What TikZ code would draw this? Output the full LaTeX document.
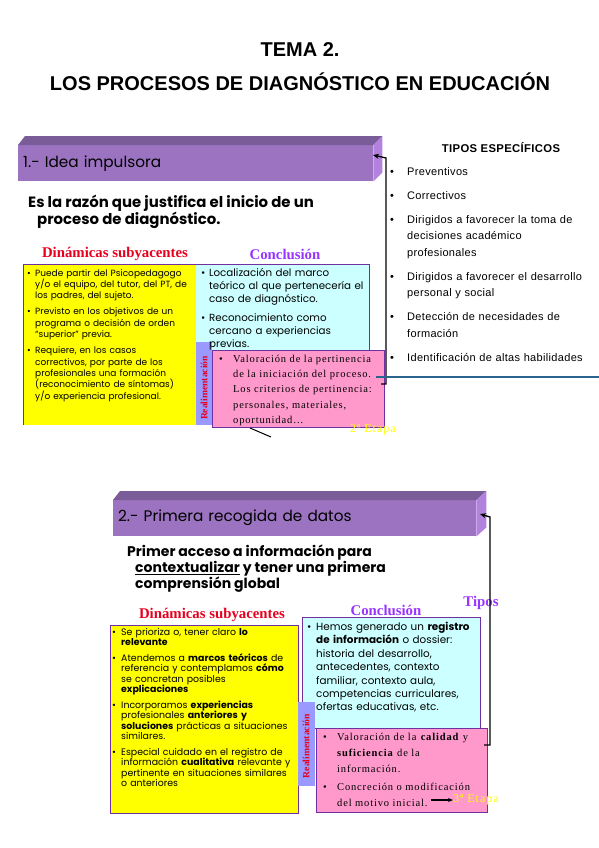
\documentclass[tikz,border=0pt]{standalone}
\usepackage{fontspec}
\setmainfont{Liberation Serif}
\newfontfamily\arialf{Liberation Sans}
\newfontfamily\arialls{Liberation Sans}[LetterSpace=3]
\newfontfamily\bodyf{Poppins}
\newfontfamily\timesls{Liberation Serif}[LetterSpace=8]
\usetikzlibrary{arrows.meta}
\definecolor{barfront}{RGB}{155,115,192}
\definecolor{bartop}{RGB}{122,92,152}
\definecolor{barside}{RGB}{178,130,222}
\definecolor{boxline}{RGB}{112,48,160}
\definecolor{yellowbox}{RGB}{255,255,0}
\definecolor{cyanbox}{RGB}{204,255,255}
\definecolor{pinkbox}{RGB}{255,153,204}
\definecolor{lavbox}{RGB}{153,153,255}
\definecolor{headred}{RGB}{230,0,30}
\definecolor{headviolet}{RGB}{153,51,255}
\definecolor{etapayellow}{RGB}{255,255,0}
\definecolor{tealline}{RGB}{40,100,140}
\newcommand{\bul}[1]{\hangindent=#1\hangafter=1\noindent\makebox[#1][l]{\textbullet}\ignorespaces}
\newcommand{\itemgap}[1]{\par\vspace{#1}}

\begin{document}
\begin{tikzpicture}[x=1pt,y=-1pt,
    bar/.style={fill=barfront, text=black, font=\bodyf\fontsize{15.3}{17}\selectfont,
      inner xsep=5pt, inner ysep=0pt, minimum height=36pt, anchor=north west, align=left},
    panel/.style={line width=0.6pt, draw=boxline},
    txt/.style={anchor=north west, inner sep=0pt, align=left},
    head/.style={inner sep=0pt, font=\bfseries\fontsize{14.8}{16}\selectfont},
    realim/.style={inner sep=0pt, rotate=90, text=headred, font=\bfseries\fontsize{9.6}{10}\selectfont},
    etapa/.style={inner sep=0pt, anchor=west, text=etapayellow, font=\timesls\fontsize{12}{14}\selectfont},
    bracketline/.style={line width=1.3pt, -{Stealth[length=6pt,width=5pt]}}]

  \fill[white] (0,0) rectangle (599,848);
  \useasboundingbox (0,0) rectangle (599,848);

  %% title
  \node[font=\arialf\bfseries\fontsize{20}{22}\selectfont] (tema) at (300,50) {TEMA 2.};
  \node[font=\arialf\bfseries\fontsize{20}{22}\selectfont] (titulo) at (300,82) {LOS PROCESOS DE DIAGNÓSTICO EN EDUCACIÓN};

  %% ---- stage 1 ----
  \node[bar, text width=345pt] (bar1) at (18,145) {1.- Idea impulsora};
  \fill[bartop] (bar1.north west) -- ++(7pt,9pt) -- ([shift={(9pt,9pt)}]bar1.north east) -- (bar1.north east) -- cycle;
  \fill[barside] (bar1.north east) -- ++(9pt,9pt) -- ([shift={(9pt,9pt)}]bar1.south east) -- (bar1.south east) -- cycle;

  \node[txt, font=\bodyf\bfseries\fontsize{14.9}{17}\selectfont] (motivo1) at (28,195)
    {Es la razón que justifica el inicio de un\\\hspace*{9pt}proceso de diagnóstico.};

  \node[head, text=headred] (din1) at (115,254) {Dinámicas subyacentes};
  \node[head, text=headviolet] (concl1) at (285,254) {Conclusión};

  % panels
  \fill[yellowbox] (23,264) rectangle (196,425);
  \draw[panel] (23,425) -- (23,264) -- (196,264);
  \fill[cyanbox] (196,264) rectangle (369,425);
  \draw[panel] (196,264) -- (369,264) -- (369,350);
  \fill[lavbox] (196,342) rectangle (212,425);
  \filldraw[panel, fill=pinkbox] (212,350) rectangle (384,427);

  \node[txt, text width=172pt, font=\bodyf\fontsize{9}{11.3}\selectfont] (dinlist1) at (27,269)
    {\bul{8pt}Puede partir del Psicopedagogo\newline y/o el equipo, del tutor, del PT, de\newline los padres, del sujeto.
     \itemgap{5pt}\bul{8pt}Previsto en los objetivos de un\newline programa o decisión de orden\newline “superior” previa.
     \itemgap{5pt}\bul{8pt}Requiere, en los casos\newline correctivos, por parte de los\newline profesionales una formación\newline (reconocimiento de síntomas)\newline y/o experiencia profesional.\par};

  \node[txt, text width=170pt, font=\bodyf\fontsize{10.3}{13.3}\selectfont] (concllist1) at (201,268)
    {\bul{8pt}Localización del marco\newline teórico al que pertenecería el\newline caso de diagnóstico.
     \itemgap{5pt}\bul{8pt}Reconocimiento como\newline cercano a experiencias\newline previas.\par};

  \node[realim] (realim1) at (204,388) {Realimentación};

  \node[txt, text width=165pt, font=\timesls\fontsize{10.5}{15.2}\selectfont] (valor1) at (219,355)
    {\bul{14pt}Valoración de la pertinencia\newline de la iniciación del proceso.\newline Los criterios de pertinencia:\newline personales, materiales,\newline oportunidad…\par};

  \node[etapa] (etapa2) at (350,430) {2ª Etapa};

  % tipos
  \node[font=\arialls\bfseries\fontsize{11.3}{12}\selectfont] (tiposhead) at (501,148) {TIPOS ESPECÍFICOS};
  \node[txt, text width=205pt, font=\arialls\fontsize{11}{16.5}\selectfont] (tiposlist) at (390,167)
    {\bul{17pt}Preventivos
     \itemgap{7.5pt}\bul{17pt}Correctivos
     \itemgap{7.5pt}\bul{17pt}Dirigidos a favorecer la toma de\newline decisiones académico\newline profesionales
     \itemgap{7.5pt}\bul{17pt}Dirigidos a favorecer el desarrollo\newline personal y social
     \itemgap{7.5pt}\bul{17pt}Detección de necesidades de\newline formación
     \itemgap{7.5pt}\bul{17pt}Identificación de altas habilidades\par};

  % connectors
  \coordinate (b1bot) at (381,384);
  \coordinate (b1corner) at (386,384);
  \coordinate (b1top) at (386,158);
  \coordinate (b1tip) at (373,155);
  \draw[bracketline] (b1bot) -- (b1corner) -- (b1top) -- (b1tip);
  \coordinate (tealstart) at (376,377);
  \coordinate (tealend) at (599,377);
  \draw[tealline, line width=2.4pt] (tealstart) -- (tealend);
  \coordinate (tail1a) at (250,428);
  \coordinate (tail1b) at (271,437);
  \draw[line width=1pt] (tail1a) -- (tail1b);

  %% ---- stage 2 ----
  \node[bar, text width=353pt] (bar2) at (113,500) {2.- Primera recogida de datos};
  \fill[bartop] (bar2.north west) -- ++(7pt,9pt) -- ([shift={(10pt,9pt)}]bar2.north east) -- (bar2.north east) -- cycle;
  \fill[barside] (bar2.north east) -- ++(10pt,9pt) -- ([shift={(10pt,9pt)}]bar2.south east) -- (bar2.south east) -- cycle;

  \node[txt, font=\bodyf\bfseries\fontsize{14}{16}\selectfont] (motivo2) at (127,545)
    {Primer acceso a información para\\\hspace*{8pt}\underline{contextualizar} y tener una primera\\\hspace*{8pt}comprensión global};

  \node[head, text=headred] (din2) at (212,615) {Dinámicas subyacentes};
  \node[head, text=headviolet] (concl2) at (386,610) {Conclusión};
  \node[head, text=headviolet] (tipos2) at (481,603) {Tipos};

  % panels
  \filldraw[panel, fill=yellowbox] (110,625) rectangle (298,813);
  \filldraw[panel, fill=cyanbox] (302,617) rectangle (480,728);
  \fill[lavbox] (298,702) rectangle (315,786);
  \filldraw[panel, fill=pinkbox] (316,728) rectangle (487,812);

  \node[txt, text width=185pt, font=\bodyf\fontsize{9.4}{10.5}\selectfont] (dinlist2) at (112,628)
    {\bul{9pt}Se prioriza o, tener claro \textbf{lo}\newline \textbf{relevante}
     \itemgap{5pt}\bul{9pt}Atendemos a \textbf{marcos teóricos} de\newline referencia y contemplamos \textbf{cómo}\newline se concretan posibles\newline \textbf{explicaciones}
     \itemgap{5pt}\bul{9pt}Incorporamos \textbf{experiencias}\newline profesionales \textbf{anteriores y}\newline \textbf{soluciones} prácticas a situaciones\newline similares.
     \itemgap{5pt}\bul{9pt}Especial cuidado en el registro de\newline información \textbf{cualitativa} relevante y\newline pertinente en situaciones similares\newline o anteriores\par};

  \node[txt, text width=175pt, font=\bodyf\fontsize{10.4}{13.4}\selectfont] (concllist2) at (307,622)
    {\bul{9pt}Hemos generado un \textbf{registro}\newline \textbf{de información} o dossier:\newline historia del desarrollo,\newline antecedentes, contexto\newline familiar, contexto aula,\newline competencias curriculares,\newline ofertas educativas, etc.\par};

  \node[realim] (realim2) at (306,746) {Realimentación};

  \node[txt, text width=165pt, font=\timesls\fontsize{10.5}{16}\selectfont] (valor2) at (323,733)
    {\bul{14pt}Valoración de la \textbf{calidad} y\newline \textbf{suficiencia} de la\newline información.
     \itemgap{2pt}\bul{14pt}Concreción o modificación\newline del motivo inicial.\par};

  \node[etapa] (etapa3) at (453,800) {3ª Etapa};

  % connectors
  \coordinate (inicialend) at (431,800);
  \draw[line width=1.3pt, -{Stealth[length=5pt,width=4pt]}] (inicialend) -- (etapa3.west);
  \coordinate (b2bot) at (484,745);
  \coordinate (b2corner) at (490,745);
  \coordinate (b2top) at (490,517);
  \coordinate (b2tip) at (480,514);
  \draw[bracketline] (b2bot) -- (b2corner) -- (b2top) -- (b2tip);
\end{tikzpicture}
\end{document}
